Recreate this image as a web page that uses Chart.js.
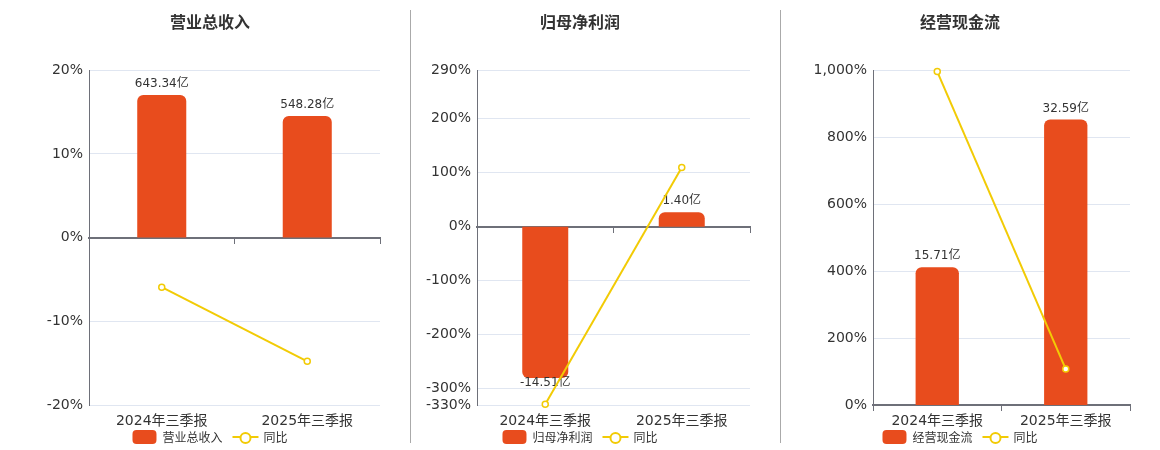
<!DOCTYPE html>
<html><head><meta charset="utf-8">
<script src="https://cdn.jsdelivr.net/npm/chart.js@4.4.1/dist/chart.umd.min.js"></script>
<style>
html,body{margin:0;padding:0;background:#fff;}
body{width:1160px;height:450px;position:relative;overflow:hidden;font-family:'DejaVu Sans','Noto Sans CJK SC',sans-serif;}
.panel{position:absolute;top:0;width:342px;height:450px;}
.sep{position:absolute;top:10px;width:1px;height:433px;background:#aaa;}
.legend{position:absolute;top:429px;height:15px;display:flex;align-items:center;transform:translateX(-50%);font-size:12px;color:#333;white-space:nowrap;font-family:'Noto Sans CJK SC',sans-serif;}
.bicon{width:24px;height:14px;border-radius:4px;background:#E84C1D;margin-right:6px;}
.licon{position:relative;width:26px;height:14px;margin-left:10px;margin-right:5px;}
.licon:before{content:'';position:absolute;left:0;right:0;top:6px;height:2px;background:#F2CB05;}
.licon:after{content:'';position:absolute;left:7px;top:2px;width:8px;height:8px;border:2px solid #F2CB05;border-radius:50%;background:#fff;}
</style></head>
<body>
<div class="panel" style="left:40px"><canvas id="c1"></canvas></div>
<div class="panel" style="left:410px"><canvas id="c2"></canvas></div>
<div class="panel" style="left:790px"><canvas id="c3"></canvas></div>
<div class="sep" style="left:410px"></div>
<div class="sep" style="left:780px"></div>
<div class="legend" style="left:210px"><span class="bicon"></span><span>营业总收入</span><span class="licon"></span><span>同比</span></div>
<div class="legend" style="left:580px"><span class="bicon"></span><span>归母净利润</span><span class="licon"></span><span>同比</span></div>
<div class="legend" style="left:960px"><span class="bicon"></span><span>经营现金流</span><span class="licon"></span><span>同比</span></div>
<script>
const categories = ['2024年三季报', '2025年三季报'];
const titles = ['营业总收入', '归母净利润', '经营现金流'];
const yoyLabel = '同比';

const revenueValues = [643.34, 548.28];
const revenueYoY = [-5.92, -14.78];
const revenueTicks = [-20, -10, 0, 10, 20];
const revenueBarRange = [-754.8, 754.8];

const profitValues = [-14.51, 1.40];
const profitYoY = [-328.6, 109.65];
const profitTicks = [-330, -300, -200, -100, 0, 100, 200, 290];
const profitBarRange = [-17.09, 15.02];

const cashValues = [15.71, 32.59];
const cashYoY = [996, 107.45];
const cashTicks = [0, 200, 400, 600, 800, 1000];
const cashBarRange = [0, 38.21];

const FONT = "'DejaVu Sans','Noto Sans CJK SC',sans-serif";
Chart.defaults.font.family = FONT;
Chart.defaults.color = '#333';

const barLabelPlugin = {
  id: 'barLabels',
  afterDatasetDraw(chart, args) {
    const ds = chart.data.datasets[args.index];
    if (ds.type !== 'bar') return;
    const ctx = chart.ctx;
    args.meta.data.forEach((el, j) => {
      const v = ds.data[j];
      ctx.save();
      ctx.font = '12px ' + FONT;
      ctx.fillStyle = '#333';
      ctx.textAlign = 'center';
      ctx.textBaseline = 'middle';
      const y = v >= 0 ? el.y - 11 : el.y + 4.5;
      ctx.fillText(v.toFixed(2) + '亿', el.x, y);
      ctx.restore();
    });
  }
};

function noSidePad(s) { s.paddingLeft = 0; s.paddingRight = 0; }

function makeChart(id, title, values, yoy, ticks, barRange, axisWidth) {
  new Chart(document.getElementById(id), {
    type: 'bar',
    data: {
      labels: categories,
      datasets: [
        {
          type: 'line', label: yoyLabel, data: yoy, yAxisID: 'y', xAxisID: 'x', order: 0,
          borderColor: '#F2CB05', borderWidth: 2, tension: 0, clip: false,
          pointRadius: 3, pointBackgroundColor: '#fff', pointBorderColor: '#F2CB05', pointBorderWidth: 1.5
        },
        {
          type: 'bar', label: title, data: values, yAxisID: 'y1', xAxisID: 'x', order: 1,
          backgroundColor: '#E84C1D', borderRadius: 6, borderSkipped: 'start',
          barPercentage: 0.337, categoryPercentage: 1
        }
      ]
    },
    plugins: [barLabelPlugin],
    options: {
      responsive: true, maintainAspectRatio: false, animation: false, events: [],
      layout: { autoPadding: false, padding: { left: 0, right: 2, top: 0, bottom: 15 } },
      plugins: {
        legend: { display: false },
        tooltip: { enabled: false },
        title: {
          display: true, text: title, color: '#333',
          font: { size: 16, weight: 'bold', family: "'Noto Sans CJK SC',sans-serif" },
          padding: { top: 12, bottom: 39 }
        }
      },
      scales: {
        x: {
          type: 'category', position: 'bottom', offset: true,
          grid: { display: false }, border: { display: false },
          ticks: { color: '#333', font: { size: 14 }, padding: 0, maxRotation: 0 },
          afterFit: s => { s.height = 30; noSidePad(s); }
        },
        x2: {
          type: 'category', labels: categories, position: { y: 0 }, offset: true,
          ticks: { display: false },
          grid: { display: true, drawOnChartArea: false, drawTicks: true, tickLength: 5, color: '#6e7079', offset: true },
          border: { display: true, color: '#6e7079', width: 2 },
          afterFit: noSidePad
        },
        y: {
          type: 'linear', position: 'left', min: ticks[0], max: ticks[ticks.length - 1],
          afterBuildTicks: axis => { axis.ticks = ticks.map(v => ({ value: v })); },
          afterFit: s => { s.width = axisWidth; },
          grid: { color: '#e0e6f1', drawTicks: false },
          border: { color: '#6e7079', width: 1 },
          ticks: { color: '#333', font: { size: 14 }, padding: 6,
            callback: v => Number(v).toLocaleString('en-US') + '%' }
        },
        y1: {
          type: 'linear', display: false, min: barRange[0], max: barRange[1]
        }
      }
    }
  });
}

makeChart('c1', titles[0], revenueValues, revenueYoY, revenueTicks, revenueBarRange, 49);
makeChart('c2', titles[1], profitValues, profitYoY, profitTicks, profitBarRange, 67);
makeChart('c3', titles[2], cashValues, cashYoY, cashTicks, cashBarRange, 83);
</script>
</body></html>
